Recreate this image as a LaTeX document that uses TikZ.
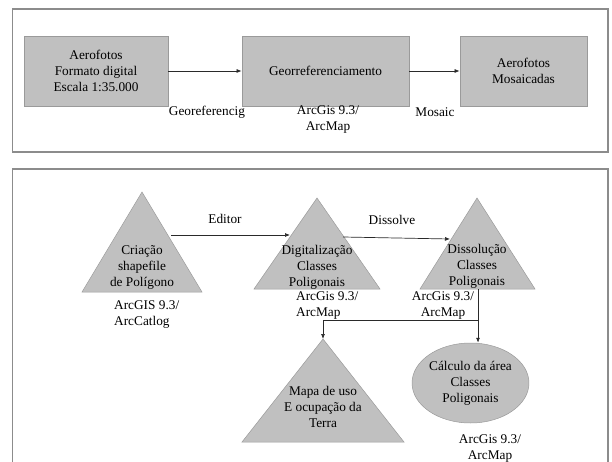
\documentclass[tikz,border=0pt]{standalone}
\usepackage{fontspec}
\setmainfont{Liberation Serif}
\usetikzlibrary{arrows.meta,shapes.geometric}
\definecolor{shapefill}{HTML}{C0C0C0}
\definecolor{shapeline}{HTML}{9A9A9A}
\definecolor{frameline}{HTML}{8C8C8C}
\definecolor{conn}{HTML}{2A2A2A}
\tikzset{
  every node/.style={font=\fontsize{13.3}{16}\selectfont, inner sep=0pt, text=black},
  box/.style={draw=shapeline, fill=shapefill, line width=0.8pt, minimum height=70pt, align=center},
  tri/.style={fill=shapefill, draw=shapeline, line width=0.5pt},
  lbl/.style={align=center},
  lbll/.style={align=left, anchor=west},
  frame/.style={draw=frameline, line width=1.2pt},
  arr/.style={draw=conn, line width=0.7pt, -{Latex[length=5pt,width=4pt]}},
}
\begin{document}
\begin{tikzpicture}[x=1pt,y=-1pt]
\useasboundingbox (0,0) rectangle (612,462);
% frames
\draw[frame] (12.7,9) rectangle (608,152);
\draw[frame] (12.7,463) -- (12.7,169) -- (608,169) -- (608,463);

% top row
\node[box, minimum width=144pt] (b1) at (96,71) {Aerofotos\\Formato digital\\Escala 1:35.000};
\node[box, minimum width=167pt] (b2) at (325.5,71) {Georreferenciamento};
\node[box, minimum width=127pt] (b3) at (523.5,71) {Aerofotos\\Mosaicadas};
\draw[arr] (b1.east) -- (b2.west);
\draw[arr] (b2.east) -- (b3.west);
\node[lbl] (l1) at (207,112) {Georeferencig};
\node[lbl] (l2) at (328,120) {ArcGis 9.3/\\ArcMap};
\node[lbl] (l3) at (435,112) {Mosaic};

% triangles
\fill[tri] (142,192) -- (202,292) -- (82,292) -- cycle;
\fill[tri] (317,198) -- (380,289) -- (254,289) -- cycle;
\fill[tri] (477,198) -- (535,289) -- (420,289) -- cycle;
\fill[tri] (323,339) -- (404,442) -- (242,442) -- cycle;
\node[draw=shapeline, fill=shapefill, line width=0.5pt, ellipse, minimum width=103pt, minimum height=80pt, align=center] (ell) at (470.5,383) {C\'alculo da \'area\\Classes\\Poligonais};

\node[lbl] (t1) at (142,267) {Criação\\shapefile\\de Polígono};
\node[lbl] (t2) at (317,267) {Digitalização\\Classes\\Poligonais};
\node[lbl] (t3) at (477,266) {Dissolução\\Classes\\Poligonais};
\node[lbl] (t4) at (323,407) {Mapa de uso\\E ocupação da\\Terra};

\node[lbll] (s1) at (114,315) {ArcGIS 9.3/\\ArcCatlog};
\node[lbll] (s2) at (296,306) {ArcGis 9.3/\\ArcMap};
\node[lbl] (s3) at (443,306) {ArcGis 9.3/\\ArcMap};
\node[lbl] (s4) at (490,449) {ArcGis 9.3/\\ArcMap};

\node[lbl] (e1) at (225,219) {Editor};
\node[lbl] (e2) at (392,220) {Dissolve};

% connector anchor points on triangle edges
\coordinate (c1r) at (171,235);
\coordinate (c2l) at (290,235);
\coordinate (c2r) at (343,237);
\coordinate (c3l) at (450,239);
\coordinate (c3b) at (478,289);
\coordinate (jn) at (478,320);
\coordinate (mapa) at (323,339);

\draw[arr] (c1r) -- (c2l);
\draw[arr] (c2r) -- (c3l);
\draw[arr] (c3b) -- (c3b |- ell.north);
\draw[arr] (jn) -| (mapa);
\end{tikzpicture}
\end{document}
